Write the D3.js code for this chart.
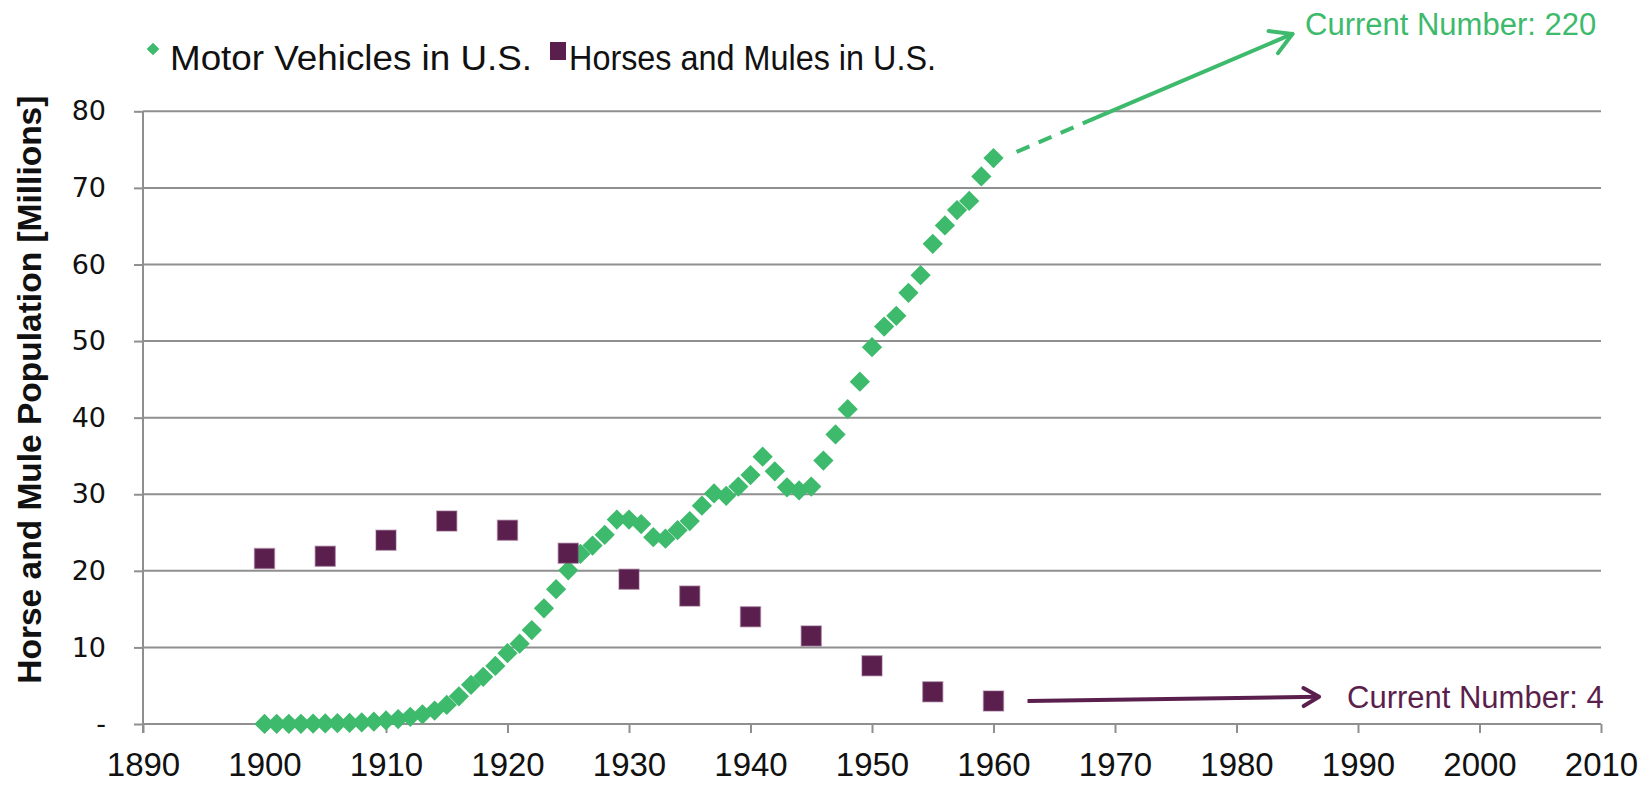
<!DOCTYPE html>
<html>
<head>
<meta charset="utf-8">
<script src="https://cdn.jsdelivr.net/npm/d3@7/dist/d3.min.js"></script>
<style>
  html, body { margin: 0; padding: 0; background: #fff; }
  svg { display: block; }
</style>
</head>
<body>
<svg id="chart" width="1646" height="786"></svg>
<script>
// Registered motor vehicles in the U.S., millions, one value per year 1900-1960
const vehicleYears = d3.range(1900, 1961);
const vehicleValues = [
  0.01, 0.02, 0.02, 0.03, 0.05, 0.08, 0.11, 0.14, 0.20, 0.31,
  0.47, 0.64, 0.94, 1.26, 1.76, 2.49, 3.62, 5.12, 6.16, 7.58,
  9.24, 10.49, 12.27, 15.10, 17.61, 20.07, 22.2, 23.3, 24.7, 26.7,
  26.7, 26.1, 24.4, 24.2, 25.3, 26.5, 28.5, 30.1, 29.8, 31.0,
  32.5, 34.9, 33.0, 30.9, 30.5, 31.0, 34.4, 37.8, 41.1, 44.7,
  49.2, 51.9, 53.3, 56.3, 58.6, 62.7, 65.1, 67.1, 68.3, 71.5,
  73.9
];

// Horses and mules in the U.S., millions, every five years
const horseYears = [1900, 1905, 1910, 1915, 1920, 1925, 1930, 1935, 1940, 1945, 1950, 1955, 1960];
const horseValues = [21.6, 21.9, 24.0, 26.5, 25.3, 22.3, 18.9, 16.7, 14.0, 11.5, 7.6, 4.2, 3.0];

const xTicks = [1890, 1900, 1910, 1920, 1930, 1940, 1950, 1960, 1970, 1980, 1990, 2000, 2010];
const yTicks = [0, 10, 20, 30, 40, 50, 60, 70, 80];

const seriesNames = ["Motor Vehicles in U.S.", "Horses and Mules in U.S."];
const currentLabels = ["Current Number: 220", "Current Number: 4"];

const GREEN = "#3dba6c";
const PURPLE = "#5b1f4d";
const GRID = "#8f8f8f";

const svg = d3.select("#chart");

const x = d3.scaleLinear().domain([1890, 2010]).range([143, 1601]);
const y = d3.scaleLinear().domain([0, 80]).range([724, 111.3]);

// Horizontal gridlines
svg.append("g")
  .selectAll("line")
  .data(yTicks.filter(d => d > 0))
  .join("line")
  .attr("x1", x(1890)).attr("x2", x(2010))
  .attr("y1", d => y(d)).attr("y2", d => y(d))
  .attr("stroke", GRID).attr("stroke-width", 2);

// Y axis
const yAxis = svg.append("g")
  .attr("transform", `translate(${x(1890)},0)`)
  .call(d3.axisLeft(y).tickValues(yTicks).tickSize(9).tickPadding(28)
    .tickFormat(d => d === 0 ? "-" : d));
yAxis.select(".domain").attr("stroke", GRID).attr("stroke-width", 2)
  .attr("d", `M0,${y(80)}V${y(0) + 9}`);
yAxis.selectAll(".tick line").attr("stroke", GRID).attr("stroke-width", 2);
yAxis.selectAll(".tick text")
  .attr("font-family", "'DejaVu Sans', sans-serif")
  .attr("font-size", 27)
  .attr("fill", "#111");

// X axis
const xAxis = svg.append("g")
  .attr("transform", `translate(0,${y(0)})`)
  .call(d3.axisBottom(x).tickValues(xTicks).tickSize(9).tickPadding(20)
    .tickFormat(d3.format("d")));
xAxis.select(".domain").attr("stroke", GRID).attr("stroke-width", 2)
  .attr("d", `M${x(1890)},0H${x(2010)}`);
xAxis.selectAll(".tick line").attr("stroke", GRID).attr("stroke-width", 2);
xAxis.selectAll(".tick text")
  .attr("font-family", "'Liberation Sans Narrow', 'Liberation Sans', sans-serif")
  .attr("font-size", 33)
  .attr("fill", "#111");

// Y axis title
svg.append("text")
  .attr("transform", `translate(41,${(y(80) + y(0)) / 2 - 28}) rotate(-90)`)
  .attr("text-anchor", "middle")
  .attr("font-family", "'Liberation Sans', sans-serif")
  .attr("font-weight", "bold")
  .attr("font-size", 33.5)
  .attr("fill", "#111")
  .text("Horse and Mule Population [Millions]");

// Motor vehicle markers (diamonds)
const diamond = d3.symbol().type(d3.symbolSquare).size(205)();
svg.append("g")
  .selectAll("path")
  .data(vehicleYears.map((yr, i) => ({ yr, v: vehicleValues[i] })))
  .join("path")
  .attr("d", diamond)
  .attr("transform", d => `translate(${x(d.yr)},${y(d.v)}) rotate(45)`)
  .attr("fill", GREEN);

// Horse and mule markers (squares)
const square = d3.symbol().type(d3.symbolSquare).size(400)();
svg.append("g")
  .selectAll("path")
  .data(horseYears.map((yr, i) => ({ yr, v: horseValues[i] })))
  .join("path")
  .attr("d", square)
  .attr("transform", d => `translate(${x(d.yr)},${y(d.v)})`)
  .attr("fill", PURPLE)
  .attr("stroke", "#8a5a80")
  .attr("stroke-opacity", 0.45)
  .attr("stroke-width", 1.5);

// Open chevron arrowhead at the end of a segment
function arrowHead(g, x1, y1, x2, y2, len, color) {
  const ang = Math.atan2(y2 - y1, x2 - x1);
  const spread = Math.PI / 6;
  const a = [x2 - len * Math.cos(ang - spread), y2 - len * Math.sin(ang - spread)];
  const b = [x2 - len * Math.cos(ang + spread), y2 - len * Math.sin(ang + spread)];
  g.append("path")
    .attr("d", `M${a[0]},${a[1]}L${x2},${y2}L${b[0]},${b[1]}`)
    .attr("fill", "none").attr("stroke", color).attr("stroke-width", 4)
    .attr("stroke-linecap", "round").attr("stroke-linejoin", "round");
}

// Trend arrow for motor vehicles: dashed out of the last point, then solid
const gArrowCars = svg.append("g");
const cStart = [x(1961.9), y(74.7)];
const cBreak = [x(1968.5), y(79.2)];
const cTip = [x(1984.6), y(90.1)];
gArrowCars.append("line")
  .attr("x1", cStart[0]).attr("y1", cStart[1])
  .attr("x2", cBreak[0]).attr("y2", cBreak[1])
  .attr("stroke", GREEN).attr("stroke-width", 4)
  .attr("stroke-dasharray", "14,10");
gArrowCars.append("line")
  .attr("x1", cBreak[0]).attr("y1", cBreak[1])
  .attr("x2", cTip[0]).attr("y2", cTip[1])
  .attr("stroke", GREEN).attr("stroke-width", 4).attr("stroke-linecap", "round");
arrowHead(gArrowCars, cStart[0], cStart[1], cTip[0], cTip[1], 24, GREEN);

svg.append("text")
  .attr("x", 1305).attr("y", 35)
  .attr("font-family", "'Liberation Sans', sans-serif")
  .attr("font-size", 31)
  .attr("fill", GREEN)
  .text(currentLabels[0]);

// Trend arrow for horses and mules
const gArrowHorse = svg.append("g");
const hStart = [x(1962.8), y(3.0)];
const hTip = [x(1986.8), y(3.55)];
gArrowHorse.append("line")
  .attr("x1", hStart[0]).attr("y1", hStart[1])
  .attr("x2", hTip[0]).attr("y2", hTip[1])
  .attr("stroke", PURPLE).attr("stroke-width", 4);
arrowHead(gArrowHorse, hStart[0], hStart[1], hTip[0], hTip[1], 18, PURPLE);

svg.append("text")
  .attr("x", 1347).attr("y", 708)
  .attr("font-family", "'Liberation Sans', sans-serif")
  .attr("font-size", 31)
  .attr("fill", PURPLE)
  .text(currentLabels[1]);

// Legend
const legend = svg.append("g");
legend.append("path")
  .attr("d", d3.symbol().type(d3.symbolSquare).size(80)())
  .attr("transform", "translate(153,49) rotate(45)")
  .attr("fill", GREEN);
legend.append("text")
  .attr("x", 170).attr("y", 70)
  .attr("font-family", "'Liberation Sans', sans-serif")
  .attr("font-size", 35)
  .attr("textLength", 362)
  .attr("lengthAdjust", "spacingAndGlyphs")
  .attr("fill", "#111")
  .text(seriesNames[0]);
legend.append("rect")
  .attr("x", 550).attr("y", 42).attr("width", 16).attr("height", 18)
  .attr("fill", PURPLE);
legend.append("text")
  .attr("x", 569).attr("y", 70)
  .attr("font-family", "'Liberation Sans', sans-serif")
  .attr("font-size", 35)
  .attr("textLength", 367)
  .attr("lengthAdjust", "spacingAndGlyphs")
  .attr("fill", "#111")
  .text(seriesNames[1]);
</script>
</body>
</html>
